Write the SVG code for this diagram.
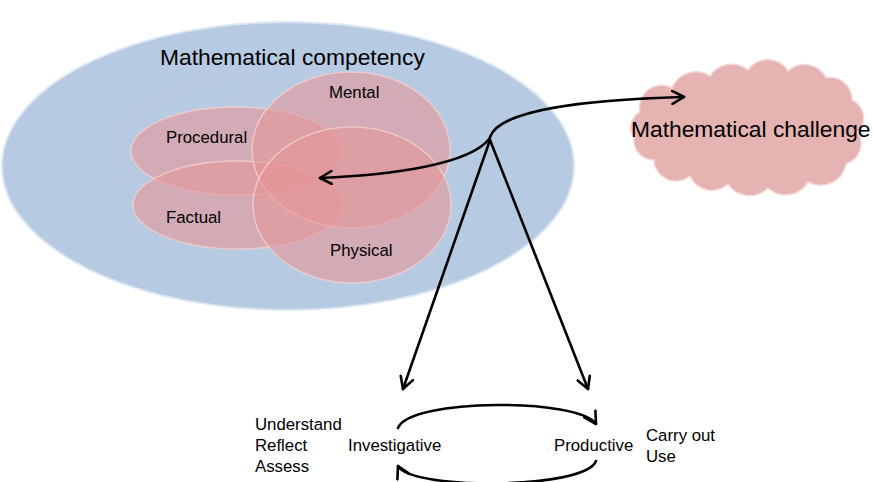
<svg xmlns="http://www.w3.org/2000/svg" width="873" height="482" viewBox="0 0 873 482">
<style>
text{font-family:"Liberation Sans",Arial,sans-serif;fill:#000}
.lbl{font-size:16.8px}
.big{font-size:22.8px}
.pink{fill:rgb(228,150,152);fill-opacity:0.6;stroke:#f3d0d0;stroke-width:1.5;stroke-opacity:0.8}
.con{fill:none;stroke:#000;stroke-width:2.6;stroke-linecap:round}
</style>
<defs>
<marker id="ah" viewBox="0 0 12 12" refX="10" refY="6" markerWidth="6" markerHeight="6" orient="auto" markerUnits="strokeWidth">
<path d="M1,1 L10,6 L1,11" fill="none" stroke="#000" stroke-width="2" stroke-linecap="round" stroke-linejoin="round"/>
</marker>
<radialGradient id="bg" cx="0.5" cy="0.45" r="0.6">
<stop offset="0" stop-color="#b8cbe3"/>
<stop offset="0.9" stop-color="#b6cae2"/>
<stop offset="1" stop-color="#aec4df"/>
</radialGradient>
</defs>
<g id="competency">
<ellipse cx="288" cy="166" rx="286" ry="144" fill="url(#bg)" stroke="#dbe6f3" stroke-width="2"/>
<text class="big" x="160" y="65">Mathematical competency</text>
</g>
<g id="procedural">
<ellipse class="pink" cx="236" cy="151" rx="105" ry="44"/>
<text class="lbl" x="166" y="143">Procedural</text>
</g>
<g id="factual">
<ellipse class="pink" cx="238" cy="205" rx="105" ry="44"/>
<text class="lbl" x="166" y="223">Factual</text>
</g>
<g id="mental">
<ellipse class="pink" cx="351" cy="150" rx="99" ry="78"/>
<text class="lbl" x="329" y="98">Mental</text>
</g>
<g id="physical">
<ellipse class="pink" cx="352" cy="205" rx="99" ry="78"/>
<text class="lbl" x="330" y="256">Physical</text>
</g>
<g id="challenge">
<path d="M640,112 A22,22 0 0 1 672,88 A26,26 0 0 1 710,76 A26,26 0 0 1 748,70 A24,24 0 0 1 788,71 A24,24 0 0 1 826,78 A22,22 0 0 1 852,100 A20,20 0 0 1 858,132 A22,22 0 0 1 846,164 A26,26 0 0 1 808,182 A26,26 0 0 1 768,188 A26,26 0 0 1 728,184 A24,24 0 0 1 690,176 A22,22 0 0 1 654,160 A20,20 0 0 1 634,138 A18,18 0 0 1 640,112 Z" fill="#e6b3b3" stroke="#f4d6d6" stroke-width="1.5"/>
<text class="big" x="631" y="137">Mathematical challenge</text>
</g>
<g id="investigative">
<text class="lbl" x="348" y="451">Investigative</text>
<text class="lbl" x="255" y="430">Understand</text>
<text class="lbl" x="255" y="451">Reflect</text>
<text class="lbl" x="255" y="472">Assess</text>
</g>
<g id="productive">
<text class="lbl" x="554" y="451">Productive</text>
<text class="lbl" x="646" y="441">Carry out</text>
<text class="lbl" x="646" y="462">Use</text>
</g>
<g id="connectors">
<path class="con" d="M490,137 C500,110 580,100 684,97" marker-end="url(#ah)"/>
<path class="con" d="M490,138 C470,165 390,175 320,178" marker-end="url(#ah)"/>
<path class="con" d="M490,140 L403,389" marker-end="url(#ah)"/>
<path class="con" d="M490,140 L588,389" marker-end="url(#ah)"/>
<path class="con" d="M398,428 C410,398 580,398 596,424" marker-end="url(#ah)"/>
<path class="con" d="M596,461 C585,490 410,490 398,466" marker-end="url(#ah)"/>
</g>
</svg>
